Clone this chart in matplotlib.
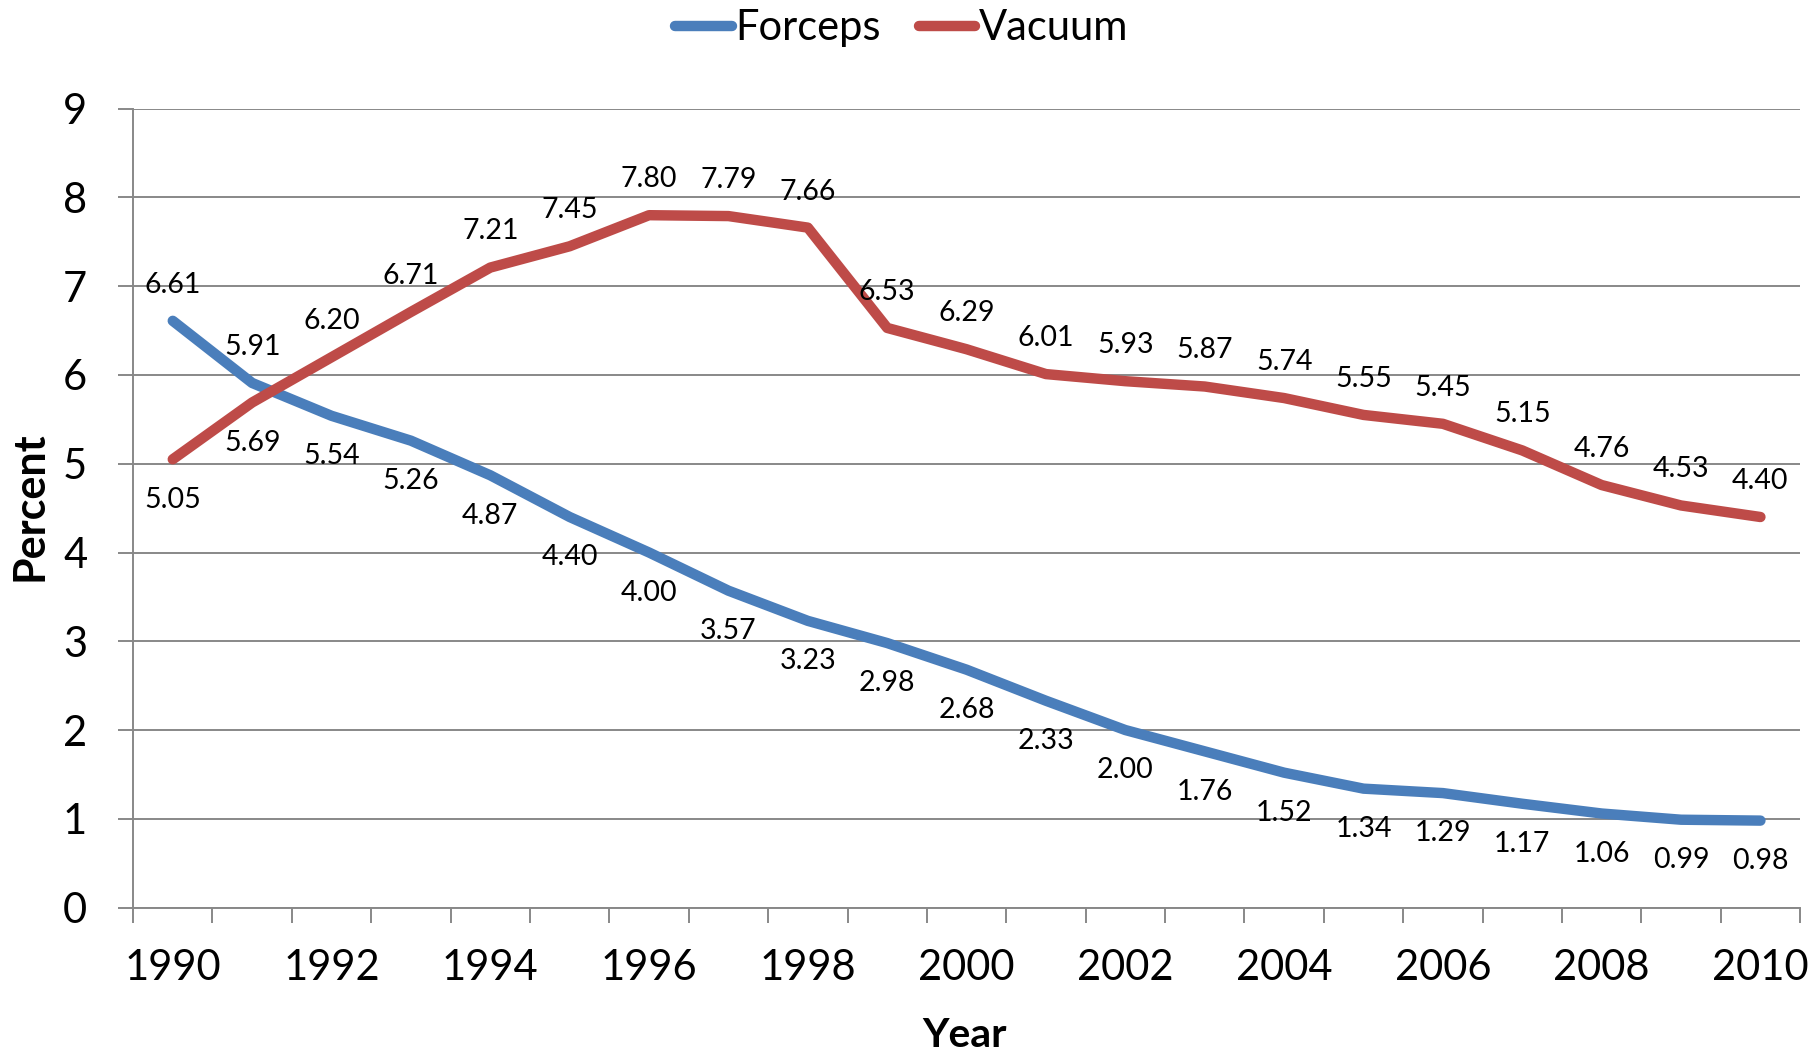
import matplotlib
matplotlib.use("Agg")
import matplotlib.pyplot as plt
from matplotlib.ticker import FixedLocator, NullFormatter

plt.rcParams['font.family'] = ['Lato', 'DejaVu Sans']

years = list(range(1990, 2011))
forceps = [6.61, 5.91, 5.54, 5.26, 4.87, 4.40, 4.00, 3.57, 3.23, 2.98, 2.68,
           2.33, 2.00, 1.76, 1.52, 1.34, 1.29, 1.17, 1.06, 0.99, 0.98]
vacuum = [5.05, 5.69, 6.20, 6.71, 7.21, 7.45, 7.80, 7.79, 7.66, 6.53, 6.29,
          6.01, 5.93, 5.87, 5.74, 5.55, 5.45, 5.15, 4.76, 4.53, 4.40]
series_names = ["Forceps", "Vacuum"]
y_ticks = list(range(0, 10))

BLUE = "#4A7EBB"
RED = "#BE4B48"
GRID = "#888888"

fig = plt.figure(figsize=(18.13, 10.54), dpi=100)
ax = fig.add_axes([0.0734, 0.1389, 0.9929 - 0.0734, 0.8969 - 0.1389])

x = list(range(len(years)))
l1, = ax.plot(x, forceps, color=BLUE, lw=7.5, solid_capstyle='round',
              solid_joinstyle='round', label=series_names[0], zorder=3)
l2, = ax.plot(x, vacuum, color=RED, lw=7.5, solid_capstyle='round',
              solid_joinstyle='round', label=series_names[1], zorder=3)

# data labels
for i, v in enumerate(forceps):
    off = 26 if i < 2 else -29
    ax.annotate(f"{v:.2f}", (i, v), xytext=(0, off), textcoords='offset points',
                ha='center', va='center', fontsize=20.5, color='black', zorder=4)
for i, v in enumerate(vacuum):
    off = -29 if i < 2 else 26
    ax.annotate(f"{v:.2f}", (i, v), xytext=(0, off), textcoords='offset points',
                ha='center', va='center', fontsize=20.5, color='black', zorder=4)

ax.set_xlim(-0.5, len(years) - 0.5)
ax.set_ylim(0, 9)

# y axis
ax.set_yticks(y_ticks)
ax.set_yticklabels([str(t) for t in y_ticks], fontsize=30)
ax.tick_params(axis='y', length=11, width=1.4, color=GRID, pad=22)
ax.yaxis.grid(True, color=GRID, lw=1.4, zorder=0)
ax.set_axisbelow(True)

# x axis: ticks at category boundaries, labels at every other category
ax.xaxis.set_major_locator(FixedLocator([i - 0.5 for i in range(len(years) + 1)]))
ax.xaxis.set_major_formatter(NullFormatter())
ax.xaxis.set_minor_locator(FixedLocator([i for i in x if years[i] % 2 == 0]))
ax.set_xticklabels([str(years[i]) for i in x if years[i] % 2 == 0], minor=True, fontsize=30)
ax.tick_params(axis='x', which='major', length=11, width=1.4, color=GRID)
ax.tick_params(axis='x', which='minor', length=0, pad=30)

for s in ['top', 'right']:
    ax.spines[s].set_visible(False)
for s in ['left', 'bottom']:
    ax.spines[s].set_color(GRID)
    ax.spines[s].set_linewidth(1.4)

fig.text(0.016, 0.52, "Percent", rotation=90, ha='center', va='center',
         fontsize=31, fontweight='bold')
fig.text(0.532, 0.018, "Year", ha='center', va='center',
         fontsize=29.5, fontweight='bold')

fig.legend(handles=[l1, l2], loc='center', bbox_to_anchor=(0.4975, 0.973),
           ncol=2, frameon=False, fontsize=30, handlelength=1.35,
           handletextpad=0.1, columnspacing=0.9)

fig.savefig("out.png", dpi=100)
